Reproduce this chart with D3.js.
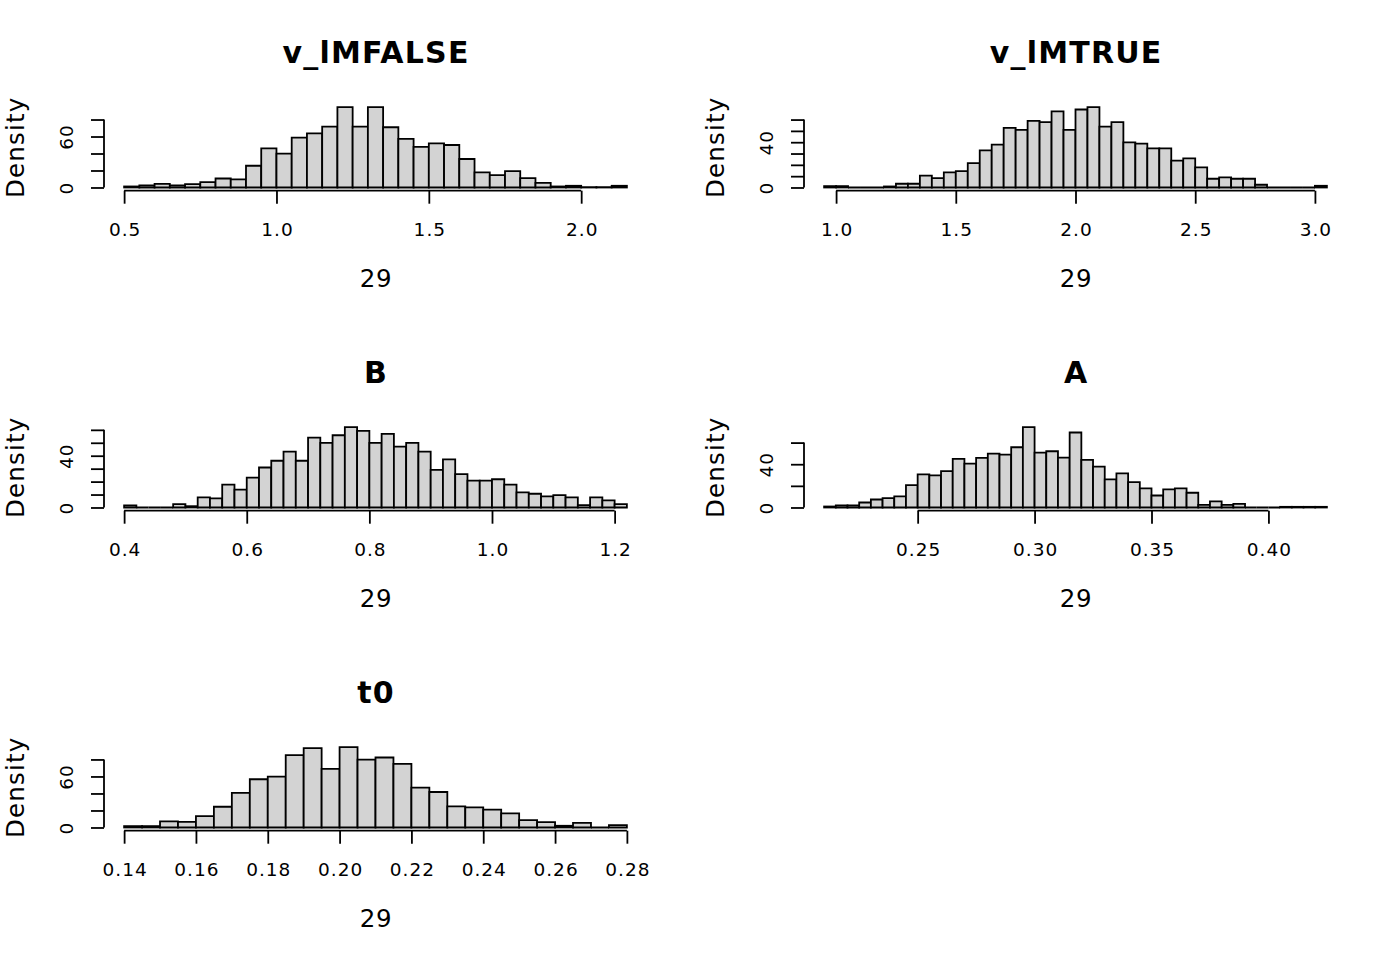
<!DOCTYPE html>
<html lang="en">
<head>
<meta charset="UTF-8">
<title>Posterior histograms</title>
<style>
  html, body { margin: 0; padding: 0; background: #fff; }
  text { font-family: "DejaVu Sans", sans-serif; fill: #000; }
</style>
</head>
<body>
<div id="target"></div>
<script src="https://d3js.org/d3.v7.min.js"></script>
<script>
// panel titles and shared x label
const titles = ["v_lMFALSE", "v_lMTRUE", "B", "A", "t0"];
const xLabel = "29";
const yLabel = "Density";

// v_lMFALSE : bins of 0.05 from 0.50
const vFalseStart = 0.5, vFalseWidth = 0.05;
const vFalseDensity = [1.2, 2.4, 4.3, 2.4, 3.9, 6.3, 10.6, 9.5, 25.6, 46.1,
  39.8, 58.7, 63.8, 71.7, 94.6, 71.7, 94.6, 70.9, 57.1, 47.7,
  52.0, 50.0, 33.5, 17.7, 14.6, 19.3, 11.0, 5.5, 1.2, 2.0,
  0.4, 0.4, 2.0];
const vFalseXTicks = [0.5, 1.0, 1.5, 2.0];
const vFalseXLabels = ["0.5", "1.0", "1.5", "2.0"];
const vFalseYTicks = [0, 20, 40, 60, 80];
const vFalseYLabels = ["0", "", "", "60", ""];

// v_lMTRUE : bins of 0.05 from 0.95
const vTrueStart = 0.95, vTrueWidth = 0.05;
const vTrueDensity = [1.2, 1.2, 0, 0, 0, 0.9, 3.3, 3.3, 10.4, 8.3,
  13.3, 14.5, 21.6, 32.8, 37.9, 52.7, 50.9, 58.9, 57.7, 67.2,
  50.9, 68.9, 71.0, 53.8, 57.7, 39.9, 38.8, 34.6, 34.6, 23.7,
  25.7, 17.8, 7.7, 8.9, 7.7, 7.7, 2.4, 0, 0, 0,
  0, 1.5];
const vTrueXTicks = [1.0, 1.5, 2.0, 2.5, 3.0];
const vTrueXLabels = ["1.0", "1.5", "2.0", "2.5", "3.0"];
const vTrueYTicks = [0, 10, 20, 30, 40, 50, 60];
const vTrueYLabels = ["0", "", "", "", "40", "", ""];

// B : bins of 0.02 from 0.40
const bStart = 0.40, bWidth = 0.02;
const bDensity = [1.6, 0, 0, 0, 2.6, 1.0, 7.8, 7.0, 17.7, 13.8,
  23.1, 30.9, 36.1, 43.1, 36.1, 54.0, 49.9, 55.8, 62.1, 59.2,
  49.9, 56.9, 47.0, 49.9, 43.1, 29.1, 37.1, 25.7, 20.8, 20.8,
  21.8, 17.7, 11.7, 10.6, 8.6, 9.6, 7.8, 1.8, 7.8, 5.5,
  2.6];
const bXTicks = [0.4, 0.6, 0.8, 1.0, 1.2];
const bXLabels = ["0.4", "0.6", "0.8", "1.0", "1.2"];
const bYTicks = [0, 10, 20, 30, 40, 50, 60];
const bYLabels = ["0", "", "", "", "40", "", ""];

// A : bins of 0.005 from 0.210
const aStart = 0.21, aWidth = 0.005;
const aDensity = [0.9, 1.9, 1.9, 4.6, 7.4, 8.7, 10.2, 20.7, 30.6, 29.7,
  33.7, 44.9, 40.6, 45.8, 49.8, 48.9, 55.7, 74.3, 50.8, 52.0,
  46.1, 69.3, 44.0, 37.8, 26.0, 31.6, 23.5, 17.6, 11.1, 16.7,
  17.6, 13.6, 2.5, 5.6, 2.5, 3.4, 0, 0, 0, 0.6,
  0.6, 0.6, 0.6];
const aXTicks = [0.25, 0.30, 0.35, 0.40];
const aXLabels = ["0.25", "0.30", "0.35", "0.40"];
const aYTicks = [0, 20, 40, 60];
const aYLabels = ["0", "", "40", ""];

// t0 : bins of 0.005 from 0.140
const t0Start = 0.14, t0Width = 0.005;
const t0Density = [1.6, 1.6, 7.1, 6.7, 13.4, 24.4, 40.6, 56.7, 59.8, 85.0,
  93.3, 68.9, 94.5, 79.9, 82.3, 74.8, 46.9, 41.7, 24.8, 23.6,
  20.9, 16.5, 8.7, 6.3, 2.0, 5.5, 0, 2.8];
const t0XTicks = [0.14, 0.16, 0.18, 0.20, 0.22, 0.24, 0.26, 0.28];
const t0XLabels = ["0.14", "0.16", "0.18", "0.20", "0.22", "0.24", "0.26", "0.28"];
const t0YTicks = [0, 20, 40, 60, 80];
const t0YLabels = ["0", "", "", "60", ""];

const panels = [
  { start: vFalseStart, width: vFalseWidth, dens: vFalseDensity, xt: vFalseXTicks, xl: vFalseXLabels, yt: vFalseYTicks, yl: vFalseYLabels },
  { start: vTrueStart, width: vTrueWidth, dens: vTrueDensity, xt: vTrueXTicks, xl: vTrueXLabels, yt: vTrueYTicks, yl: vTrueYLabels },
  { start: bStart, width: bWidth, dens: bDensity, xt: bXTicks, xl: bXLabels, yt: bYTicks, yl: bYLabels },
  { start: aStart, width: aWidth, dens: aDensity, xt: aXTicks, xl: aXLabels, yt: aYTicks, yl: aYLabels },
  { start: t0Start, width: t0Width, dens: t0Density, xt: t0XTicks, xl: t0XLabels, yt: t0YTicks, yl: t0YLabels }
];

const width = 1400, height = 960;
const cellW = 700, cellH = 320;
// R-like margins (mar = 5.1, 4.1, 4.1, 2.1 lines)
const plotL = 104, plotR = 647, plotT = 103.9, plotB = 190.7;
const lw = 1.8;

const svg = d3.select("#target")
  .append("svg")
  .attr("width", width)
  .attr("height", height)
  .style("display", "block");

svg.append("rect").attr("width", width).attr("height", height).attr("fill", "#fff");

panels.forEach(function (p, i) {
  const col = i % 2, row = Math.floor(i / 2);
  const g = svg.append("g").attr("transform", `translate(${col * cellW},${row * cellH})`);

  const bins = p.dens.map((d, k) => ({ lo: p.start + k * p.width, hi: p.start + (k + 1) * p.width, d: d }));
  const xMin = p.start, xMax = p.start + p.dens.length * p.width;
  const span = xMax - xMin;
  const yMax = d3.max(p.dens);

  // xaxs = "r" / yaxs = "r": 4% extension
  const x = d3.scaleLinear().domain([xMin - 0.04 * span, xMax + 0.04 * span]).range([plotL, plotR]);
  const y = d3.scaleLinear().domain([-0.04 * yMax, 1.04 * yMax]).range([plotB, plotT]);

  // paths so that empty bins still show their outline on the baseline
  g.selectAll("path.bar")
    .data(bins)
    .join("path")
    .attr("class", "bar")
    .attr("d", d => `M${x(d.lo)},${y(0)}V${y(d.d)}H${x(d.hi)}V${y(0)}Z`)
    .attr("fill", "#d3d3d3")
    .attr("stroke", "#000")
    .attr("stroke-width", lw)
    .attr("stroke-linejoin", "miter");

  // x axis
  const xa = g.append("g")
    .attr("transform", `translate(0,${plotB})`)
    .call(d3.axisBottom(x).tickValues(p.xt).tickSize(13).tickSizeOuter(0)
      .tickFormat((d, k) => p.xl[k]));
  xa.select(".domain")
    .attr("d", `M${x(p.xt[0])},0H${x(p.xt[p.xt.length - 1])}`)
    .attr("stroke-width", lw);
  xa.selectAll(".tick line").attr("stroke-width", lw);
  xa.selectAll(".tick text")
    .attr("y", 0).attr("dy", 0)
    .attr("transform", "translate(0.5,45.1)")
    .style("font-size", "18.5px")
    .style("letter-spacing", "1px")
    .style("font-family", "'DejaVu Sans', sans-serif");

  // y axis
  const ya = g.append("g")
    .attr("transform", `translate(${plotL},0)`)
    .call(d3.axisLeft(y).tickValues(p.yt).tickSize(13).tickSizeOuter(0)
      .tickFormat((d, k) => p.yl[k]));
  ya.select(".domain")
    .attr("d", `M0,${y(p.yt[0])}V${y(p.yt[p.yt.length - 1])}`)
    .attr("stroke-width", lw);
  ya.selectAll(".tick line").attr("stroke-width", lw);
  ya.selectAll(".tick text")
    .attr("x", 0).attr("y", -31.2).attr("dy", 0)
    .attr("transform", "rotate(-90)")
    .attr("text-anchor", "middle")
    .style("font-size", "18.5px")
    .style("letter-spacing", "1px")
    .style("font-family", "'DejaVu Sans', sans-serif");

  // title
  g.append("text")
    .attr("x", (plotL + plotR) / 2 + 0.6)
    .attr("y", 63)
    .attr("text-anchor", "middle")
    .style("font-size", "30px")
    .style("letter-spacing", "1.2px")
    .style("font-weight", "bold")
    .text(titles[i]);

  // x label
  g.append("text")
    .attr("x", (plotL + plotR) / 2 + 0.5)
    .attr("y", 287)
    .attr("text-anchor", "middle")
    .style("font-size", "24.5px")
    .style("letter-spacing", "0.6px")
    .text(xLabel);

  // y label
  g.append("text")
    .attr("transform", `translate(23.5,${(plotT + plotB) / 2}) rotate(-90)`)
    .attr("text-anchor", "middle")
    .style("font-size", "24.5px")
    .style("letter-spacing", "1.2px")
    .text(yLabel);
});
</script>
</body>
</html>
